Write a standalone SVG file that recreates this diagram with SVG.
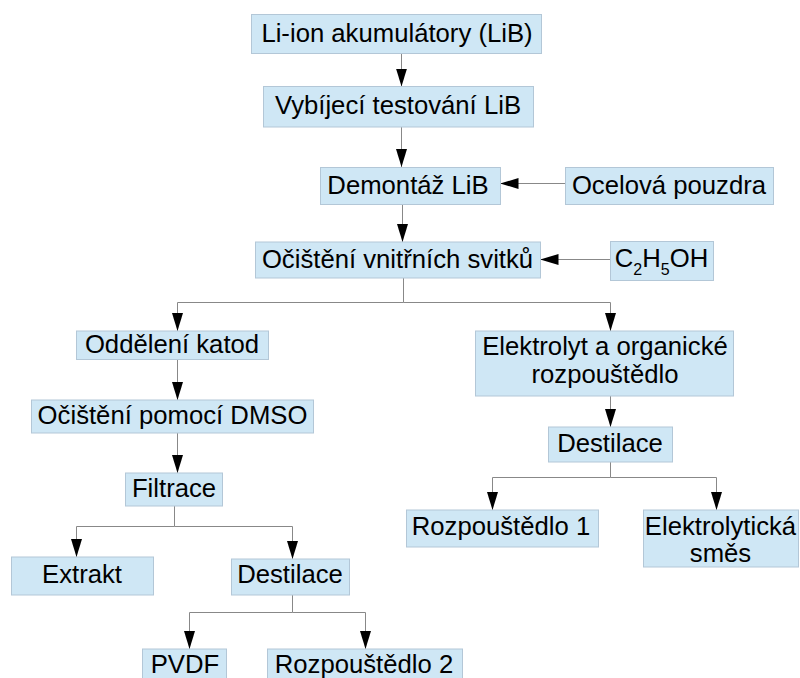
<svg xmlns="http://www.w3.org/2000/svg" width="800" height="678" viewBox="0 0 800 678">
<defs>
<style>
.box{fill:#cfe7f5;stroke:#b3c7d7;stroke-width:1}
.t{font-family:"Liberation Sans",Arial,sans-serif;font-size:25.7px;fill:#000;text-anchor:middle}
.c{fill:none;stroke:#888888;stroke-width:1}
</style>
<marker id="ah" markerUnits="userSpaceOnUse" markerWidth="18" markerHeight="12" refX="18" refY="6" orient="auto">
<path d="M0,0.5 L18,6 L0,11.5 z" fill="#000"/>
</marker>
</defs>
<rect width="800" height="678" fill="#fff"/>
<g id="connectors">
<path class="c" d="M401.5,53 V86.5" marker-end="url(#ah)"/>
<path class="c" d="M401.5,127 V167" marker-end="url(#ah)"/>
<path class="c" d="M402.5,204 V242" marker-end="url(#ah)"/>
<path class="c" d="M565,183.5 H500.5" marker-end="url(#ah)"/>
<path class="c" d="M610,259.5 H540.5" marker-end="url(#ah)"/>
<path class="c" d="M403.5,278 V302.5"/>
<path class="c" d="M403.5,302.5 H610.5 V331" marker-end="url(#ah)"/>
<path class="c" d="M403.5,302.5 H177.5 V331" marker-end="url(#ah)"/>
<path class="c" d="M177.5,359.5 V400" marker-end="url(#ah)"/>
<path class="c" d="M177.5,433 V473" marker-end="url(#ah)"/>
<path class="c" d="M174.5,506 V526.5 H76.5 V557" marker-end="url(#ah)"/>
<path class="c" d="M174.5,526.5 H292.5 V559" marker-end="url(#ah)"/>
<path class="c" d="M292.5,595 V612.5 H189.5 V649" marker-end="url(#ah)"/>
<path class="c" d="M292.5,612.5 H365.5 V649" marker-end="url(#ah)"/>
<path class="c" d="M610.5,396 V427" marker-end="url(#ah)"/>
<path class="c" d="M610.5,462 V477.5 H492.5 V510" marker-end="url(#ah)"/>
<path class="c" d="M610.5,477.5 H716.5 V510" marker-end="url(#ah)"/>
</g>
<g id="n1"><rect class="box" x="251.5" y="14.5" width="290" height="39"/><text class="t" x="397" y="42">Li-ion akumulátory (LiB)</text></g>
<g id="n2"><rect class="box" x="263.5" y="86.5" width="270" height="40.5"/><text class="t" x="398" y="114">Vybíjecí testování LiB</text></g>
<g id="n3"><rect class="box" x="320.5" y="167.5" width="180" height="37"/><text class="t" x="408" y="194">Demontáž LiB</text></g>
<g id="n4"><rect class="box" x="565.5" y="167.5" width="208" height="37"/><text class="t" x="669" y="194">Ocelová pouzdra</text></g>
<g id="n5"><rect class="box" x="255.5" y="242" width="285" height="36"/><text class="t" x="397.5" y="268">Očištění vnitřních svitků</text></g>
<g id="n6"><rect class="box" x="610.5" y="241.5" width="103" height="39"/><text class="t" x="661.5" y="267">C<tspan font-size="16" dy="8">2</tspan><tspan dy="-8">H</tspan><tspan font-size="16" dy="8">5</tspan><tspan dy="-8">OH</tspan></text></g>
<g id="n7"><rect class="box" x="76.5" y="331" width="192" height="28.5"/><text class="t" x="172" y="353">Oddělení katod</text></g>
<g id="n8"><rect class="box" x="31.5" y="400" width="282" height="33"/><text class="t" x="172.5" y="424">Očištění pomocí DMSO</text></g>
<g id="n9"><rect class="box" x="125.5" y="473" width="97" height="33"/><text class="t" x="174" y="497">Filtrace</text></g>
<g id="n10"><rect class="box" x="11.5" y="557" width="142" height="38"/><text class="t" x="82" y="583">Extrakt</text></g>
<g id="n11"><rect class="box" x="231.5" y="559" width="118" height="36"/><text class="t" x="290" y="583">Destilace</text></g>
<g id="n12"><rect class="box" x="142.5" y="649" width="84" height="40"/><text class="t" x="185" y="673">PVDF</text></g>
<g id="n13"><rect class="box" x="267.5" y="649" width="195" height="40"/><text class="t" x="364" y="673">Rozpouštědlo 2</text></g>
<g id="n14"><rect class="box" x="475.5" y="331" width="258" height="65"/><text class="t" x="605" y="355">Elektrolyt a organické</text><text class="t" x="605" y="383">rozpouštědlo</text></g>
<g id="n15"><rect class="box" x="548.5" y="427" width="124" height="35"/><text class="t" x="610" y="452">Destilace</text></g>
<g id="n16"><rect class="box" x="406.5" y="510" width="192" height="37"/><text class="t" x="501" y="535">Rozpouštědlo 1</text></g>
<g id="n17"><rect class="box" x="643.5" y="510" width="155" height="57"/><text class="t" x="720.5" y="535">Elektrolytická</text><text class="t" x="720.5" y="562">směs</text></g>
</svg>
